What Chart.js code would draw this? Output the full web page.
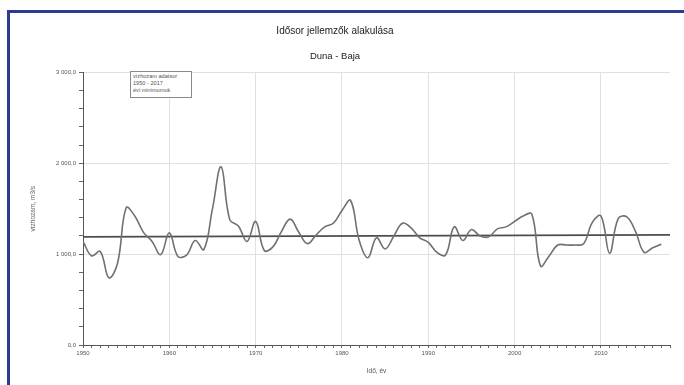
<!DOCTYPE html>
<html>
<head>
<meta charset="utf-8">
<script src="https://cdn.jsdelivr.net/npm/chart.js@4.4.1/dist/chart.umd.min.js"></script>
<style>
  html, body { margin:0; padding:0; background:#fff; }
  #wrap { position:relative; width:684px; height:385px; overflow:hidden; }
  #frame { position:absolute; left:7px; top:10px; right:-10px; bottom:-10px;
           border-left:3px solid #2d3c8e; border-top:3px solid #2d3c8e; }
  #chartCanvas { position:absolute; left:0; top:0; }
  #note { position:absolute; left:130px; top:71px; width:62px; height:27px;
          border:1px solid #8a8a8a; background:#fff;
          font-family:"Liberation Sans", Arial, sans-serif; font-size:5.6px; line-height:7.2px;
          color:#555; padding:1px 0 0 2px; box-sizing:border-box; }
</style>
</head>
<body>
<div id="wrap">
  <div id="frame"></div>
  <canvas id="chartCanvas" width="684" height="385"></canvas>
  <div id="note">vízhozam adatsor<br>1950 - 2017<br>évi minimumok</div>
</div>
<script>
// ---------- DATA ----------
const years = [
  1950,1951,1952,1953,1954,1955,1956,1957,1958,1959,
  1960,1961,1962,1963,1964,1965,1966,1967,1968,1969,
  1970,1971,1972,1973,1974,1975,1976,1977,1978,1979,
  1980,1981,1982,1983,1984,1985,1986,1987,1988,1989,
  1990,1991,1992,1993,1994,1995,1996,1997,1998,1999,
  2000,2001,2002,2003,2004,2005,2006,2007,2008,2009,
  2010,2011,2012,2013,2014,2015,2016,2017
];
const minFlow = [
  1141, 980,1030, 740, 900,1510,1420,1240,1140, 995,
  1234, 975, 990,1150,1050,1500,1960,1380,1310,1140,
  1360,1040,1080,1250,1385,1240,1116,1210,1300,1340,
  1480,1590,1150, 960,1180,1057,1197,1340,1290,1180,
  1130,1020, 990,1300,1150,1270,1200,1190,1278,1300,
  1360,1420,1440, 870, 980,1100,1100,1100,1115,1350,
  1420,1010,1390,1410,1250,1020,1070,1110
];
const trendYears = [1950, 2018];
const trendFlow = [1190, 1212];

const titleText = "Idősor jellemzők alakulása";
const subtitleText = "Duna - Baja";
const yTitle = "vízhozam, m3/s";
const xTitle = "Idő, év";

// ----- helpers -----
function fmtFlow(v){
  if(v === 0) return "0,0";
  return (v/1000) + " 000,0";
}
const FONT = "'Liberation Sans', Arial, sans-serif";

const canvasEl = document.getElementById("chartCanvas");
const chart = new Chart(canvasEl, {
  type: "line",
  data: {
    datasets: [
      {
        label: "évi minimumok",
        data: years.map((y,i)=>({ x:y, y:minFlow[i] })),
        borderColor: "#707070",
        borderWidth: 1.6,
        pointRadius: 0,
        tension: 0.4,
        fill: false
      },
      {
        label: "trend",
        data: trendYears.map((y,i)=>({ x:y, y:trendFlow[i] })),
        borderColor: "#4d4d4d",
        borderWidth: 1.6,
        pointRadius: 0,
        tension: 0,
        fill: false
      }
    ]
  },
  options: {
    responsive: false,
    animation: false,
    events: [],
    layout: { padding: { left:0, right:14, top:0, bottom:0 } },
    plugins: {
      legend: { display:false },
      tooltip: { enabled:false },
      title: {
        display: true, text: titleText, color: "#222",
        font: { family: FONT, size: 10, weight: "normal" },
        padding: { top: 25, bottom: 8 }
      },
      subtitle: {
        display: true, text: subtitleText, color: "#222",
        font: { family: FONT, size: 9.5, weight: "normal" },
        padding: { top: 6, bottom: 10 }
      }
    },
    scales: {
      x: {
        type: "linear",
        min: 1950, max: 2018,
        afterFit: s => { s.height = 40; },
        ticks: {
          stepSize: 1, autoSkip: false, maxTicksLimit: 100, maxRotation: 0,
          padding: 2, color: "#555",
          font: { family: FONT, size: 6 },
          callback: v => (v % 10 === 0 ? String(v) : "")
        },
        grid: {
          color: c => (c.tick && c.tick.value % 10 === 0 ? "#e0e0e0" : "rgba(0,0,0,0)"),
          tickColor: "#666", tickLength: 3, lineWidth: 1
        },
        border: { color: "#555", width: 1 },
        title: {
          display: true, text: xTitle, color: "#555",
          font: { family: FONT, size: 6.5 },
          padding: { top: 0, bottom: 10 }
        }
      },
      y: {
        min: 0, max: 3000,
        afterFit: s => { s.width = 83; },
        ticks: {
          stepSize: 200, autoSkip: false, maxTicksLimit: 100,
          padding: 3, color: "#555",
          font: { family: FONT, size: 6 },
          callback: v => (v % 1000 === 0 ? fmtFlow(v) : "")
        },
        grid: {
          color: c => (c.tick && c.tick.value % 1000 === 0 && c.tick.value > 0 ? "#e0e0e0" : "rgba(0,0,0,0)"),
          tickColor: "#666", tickLength: 4, lineWidth: 1
        },
        border: { color: "#555", width: 1 },
        title: {
          display: true, text: yTitle, color: "#666",
          font: { family: FONT, size: 6.5 },
          padding: { top: 29, bottom: 0 }
        }
      }
    }
  }
});
console.log("chartArea", JSON.stringify(chart.chartArea));
</script>
</body>
</html>
